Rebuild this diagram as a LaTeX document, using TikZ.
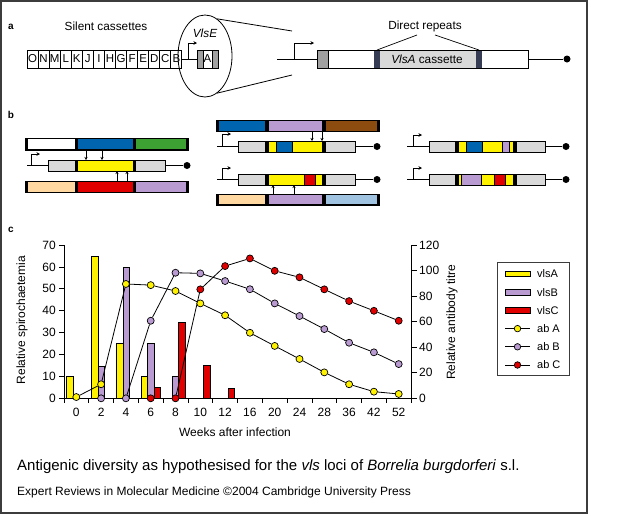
\documentclass[tikz,border=0pt]{standalone}
\usepackage{fontspec}
\setmainfont{Liberation Sans}
\usetikzlibrary{arrows.meta,shapes.geometric}
\pgfdeclarelayer{bg}
\pgfsetlayers{bg,main}
\definecolor{cyel}{RGB}{255,242,0}
\definecolor{clil}{RGB}{185,155,210}
\definecolor{cred}{RGB}{225,0,0}
\definecolor{cblu}{RGB}{0,100,175}
\definecolor{cgrn}{RGB}{60,160,50}
\definecolor{cbrn}{RGB}{140,75,15}
\definecolor{cpch}{RGB}{255,215,160}
\definecolor{clbl}{RGB}{160,195,225}
\definecolor{clgr}{RGB}{217,217,217}
\definecolor{cdgr}{RGB}{160,160,160}
\definecolor{cnav}{RGB}{55,60,85}
\definecolor{cfrm}{RGB}{60,60,60}
\newcommand\seg[5]{\fill[#5] (#1,#3) rectangle (#2,#4);}
\begin{document}
\begin{tikzpicture}[x=1pt,y=-1pt,
  every node/.style={inner sep=0pt},
  lbl/.style={font=\fontsize{11.8}{14}\selectfont},
  tk/.style={font=\fontsize{12}{14}\selectfont},
  lg/.style={font=\fontsize{11}{13}\selectfont},
  plab/.style={font=\fontsize{10}{12}\selectfont\bfseries},
  ln/.style={line width=0.8pt},
  pro/.style={line width=0.8pt,-{Stealth[length=3.5pt,width=3.5pt]}},
  arr/.style={line width=0.6pt,-{Stealth[length=3pt,width=3pt]}},
  cas/.style={draw,line width=0.9pt,minimum width=11.07pt,minimum height=18pt,font=\fontsize{11.5}{12}\selectfont},
  gbox/.style={draw,line width=0.7pt,minimum height=11pt},
  dot/.style={circle,fill=black,minimum size=7pt},
  mk/.style={circle,draw,line width=0.7pt,minimum size=7pt},
  sepl/.style={line width=0.5pt}
]
\useasboundingbox (0,0) rectangle (644,515);
\draw[line width=1.3pt,cfrm] (1,1) rectangle (587,513);

% ---------- panel a ----------
\node[plab] (la) at (11,27) {a};
\node[lbl] (sc) at (106,26) {Silent cassettes};
\foreach \l [count=\k from 0] in {O,N,M,L,K,J,I,H,G,F,E,D,C,B}
  \node[cas] (cs\k) at ({32.5+11.07*\k},59) {\l};
\fill[cdgr] (197,50) rectangle (203,68);
\fill[cdgr] (212,50) rectangle (218,68);
\node[cas,minimum width=21pt] (ve) at (207.5,59) {};
\draw[line width=0.9pt] (203,50) -- (203,68) (212,50) -- (212,68);
\node[font=\fontsize{11.5}{12}\selectfont] (va) at (207.5,59) {A};
\draw[ln] (cs13.east) -- (ve.west);
\draw[pro] (188,59) -- (188,43) -- (197,43);
\node[ellipse,draw,line width=0.8pt,minimum width=54pt,minimum height=82pt] (ell) at (205,56) {};
\node[font=\fontsize{11.8}{14}\selectfont\itshape] (vt) at (205,33) {VlsE};
\coordinate (zt) at (292,31);
\coordinate (zb) at (292,75);
\draw[line width=0.8pt] (ell.72) -- (zt);
\draw[line width=0.8pt] (ell.-72) -- (zb);

\fill[cdgr] (317,50) rectangle (328,68);
\fill[cnav] (374,50) rectangle (380,68);
\fill[clgr] (380,50) rectangle (476,68);
\fill[cnav] (476,50) rectangle (482,68);
\node[draw,line width=0.9pt,minimum width=211pt,minimum height=18pt] (vb) at (422.5,59) {};
\draw[line width=0.8pt] (328,50) -- (328,68);
\node[lbl] (vc) at (427,59) {\textit{VlsA} cassette};
\coordinate (ls) at (277,59);
\draw[ln] (ls) -- (vb.west);
\draw[pro] (294,59) -- (294,43) -- (314,43);
\node[dot] (ea) at (567,59) {};
\draw[ln] (vb.east) -- (ea);
\node[lbl] (dr) at (425,26) {Direct repeats};
\coordinate (dra) at (417,35);
\coordinate (drb) at (435,35);
\draw[line width=0.7pt] (dra) -- (377,50);
\draw[line width=0.7pt] (drb) -- (479,50);

% ---------- panel b ----------
\node[plab] (lb) at (11,115) {b};
% left group
\fill (25,138) rectangle (189,150.5);
\seg{28}{75}{139.3}{149.2}{white}\seg{78}{133}{139.3}{149.2}{cblu}\seg{136}{186}{139.3}{149.2}{cgrn}
\seg{48}{165}{160}{171}{clgr}\seg{75}{78}{160}{171}{black}\seg{78}{133}{160}{171}{cyel}\seg{133}{136}{160}{171}{black}
\node[gbox,minimum width=117pt] (g1) at (106.5,165.5) {};
\draw[ln] (27,165.5) -- (g1.west);
\draw[pro] (31,165.5) -- (31,154) -- (40,154);
\node[dot] (e1) at (187,165.5) {};
\draw[ln] (g1.east) -- (e1);
\draw[arr] (86,150.5) -- (86,160);
\draw[arr] (102,150.5) -- (102,160);
\draw[arr] (117,181) -- (117,171);
\draw[arr] (127,181) -- (127,171);
\fill (25,181) rectangle (189,193);
\seg{28}{75}{182.3}{191.7}{cpch}\seg{78}{133}{182.3}{191.7}{cred}\seg{136}{186}{182.3}{191.7}{clil}

% middle group
\fill (216,120) rectangle (380,132);
\seg{219}{265}{121.3}{130.7}{cblu}\seg{269}{322}{121.3}{130.7}{clil}\seg{326}{377}{121.3}{130.7}{cbrn}
\seg{238}{355}{141}{152}{clgr}\seg{265}{269}{141}{152}{black}\seg{269}{276.5}{141}{152}{cyel}
\seg{276.5}{292.5}{141}{152}{cblu}\seg{292.5}{322}{141}{152}{cyel}\seg{322}{326}{141}{152}{black}
\draw[sepl] (276.5,141) -- (276.5,152) (292.5,141) -- (292.5,152);
\node[gbox,minimum width=117pt] (g2) at (296.5,146.5) {};
\draw[ln] (217,146.5) -- (g2.west);
\draw[pro] (222,146.5) -- (222,134) -- (231,134);
\node[dot] (e2) at (377,146.5) {};
\draw[ln] (g2.east) -- (e2);
\draw[arr] (312,132) -- (312,141);
\draw[arr] (322,132) -- (322,141);
\seg{238}{355}{174}{185}{clgr}\seg{265}{269}{174}{185}{black}\seg{269}{304}{174}{185}{cyel}
\seg{304}{315.5}{174}{185}{cred}\seg{315.5}{322}{174}{185}{cyel}\seg{322}{326}{174}{185}{black}
\draw[sepl] (304,174) -- (304,185) (315.5,174) -- (315.5,185);
\node[gbox,minimum width=117pt] (g3) at (296.5,179.5) {};
\draw[ln] (217,179.5) -- (g3.west);
\draw[pro] (222,179.5) -- (222,168) -- (231,168);
\node[dot] (e3) at (377,179.5) {};
\draw[ln] (g3.east) -- (e3);
\draw[arr] (273,194) -- (273,185);
\draw[arr] (294,194) -- (294,185);
\fill (216,194) rectangle (380,205.5);
\seg{219}{265}{195.3}{204.2}{cpch}\seg{269}{322}{195.3}{204.2}{clil}\seg{326}{377}{195.3}{204.2}{clbl}

% right group
\seg{429}{545}{141}{152}{clgr}\seg{455}{459}{141}{152}{black}\seg{459}{466.5}{141}{152}{cyel}
\seg{466.5}{482}{141}{152}{cblu}\seg{482}{502.5}{141}{152}{cyel}\seg{502.5}{509.5}{141}{152}{clil}
\seg{509.5}{513}{141}{152}{cyel}\seg{513}{517}{141}{152}{black}
\draw[sepl] (466.5,141) -- (466.5,152) (482,141) -- (482,152) (502.5,141) -- (502.5,152) (509.5,141) -- (509.5,152);
\node[gbox,minimum width=116pt] (g4) at (487,146.5) {};
\draw[ln] (407,146.5) -- (g4.west);
\draw[pro] (413,146.5) -- (413,135) -- (422,135);
\node[dot] (e4) at (566,146.5) {};
\draw[ln] (g4.east) -- (e4);
\seg{429}{545}{174}{185}{clgr}\seg{455}{459}{174}{185}{black}\seg{459}{461.5}{174}{185}{cyel}
\seg{461.5}{481}{174}{185}{clil}\seg{481}{494}{174}{185}{cyel}\seg{494}{505.5}{174}{185}{cred}
\seg{505.5}{513}{174}{185}{cyel}\seg{513}{517}{174}{185}{black}
\draw[sepl] (461.5,174) -- (461.5,185) (481,174) -- (481,185) (494,174) -- (494,185) (505.5,174) -- (505.5,185);
\node[gbox,minimum width=116pt] (g5) at (487,179.5) {};
\draw[ln] (407,179.5) -- (g5.west);
\draw[pro] (413,179.5) -- (413,168) -- (422,168);
\node[dot] (e5) at (566,179.5) {};
\draw[ln] (g5.east) -- (e5);

% ---------- panel c ----------
\node[plab] (lc) at (11,230) {c};
\begin{pgfonlayer}{bg}
\foreach \i/\v in {0/10,1/65,2/25,3/10}
  \draw[line width=0.7pt,fill=cyel] ({76.3+24.8*\i-9.5},398.3) rectangle ({76.3+24.8*\i-3},{398.3-2.19*\v});
\foreach \i/\v in {1/14.5,2/60,3/25,4/10}
  \draw[line width=0.7pt,fill=clil] ({76.3+24.8*\i-3},398.3) rectangle ({76.3+24.8*\i+3.3},{398.3-2.19*\v});
\foreach \i/\v in {3/5,4/34.5,5/15,6/4.5}
  \draw[line width=0.7pt,fill=cred] ({76.3+24.8*\i+3.3},398.3) rectangle ({76.3+24.8*\i+9.6},{398.3-2.19*\v});
\end{pgfonlayer}
\draw[line width=0.8pt] (64,245) -- (64,398.3) -- (411.5,398.3) -- (411.5,245);
\foreach \v in {0,10,...,70} {
  \draw[line width=0.8pt] (64,{398.3-2.19*\v}) -- (59,{398.3-2.19*\v});
  \node[tk,anchor=east] (yl\v) at (56,{398.3-2.19*\v}) {\v};
}
\foreach \v in {0,20,...,120} {
  \draw[line width=0.8pt] (411.5,{398.3-1.2775*\v}) -- (416.5,{398.3-1.2775*\v});
  \node[tk,anchor=west] (yr\v) at (419,{398.3-1.2775*\v}) {\v};
}
\foreach \k in {0,...,14}
  \draw[line width=0.8pt] ({64+24.8*\k},398.3) -- ({64+24.8*\k},403);
\foreach \l [count=\i from 0] in {0,2,4,6,8,10,12,16,20,24,28,36,42,52}
  \node[tk] (xl\i) at ({76.3+24.8*\i},412) {\l};

\foreach \i/\v in {0/1,1/11,2/89.5,3/88.6,4/84,5/74.3,6/65,7/51.3,8/41,9/30.8,10/20.3,11/11,12/5.2,13/3.4}
  \node[mk,fill=cyel] (A\i) at ({76.3+24.8*\i},{398.3-1.2775*\v}) {};
\foreach \i/\v in {1/0,2/0,3/60.7,4/98.3,5/97.8,6/91.8,7/85.4,8/74.3,9/64.4,10/54.2,11/43.5,12/36,13/26.8}
  \node[mk,fill=clil] (B\i) at ({76.3+24.8*\i},{398.3-1.2775*\v}) {};
\foreach \i/\v in {3/0,4/0,5/85.3,6/103.5,7/109.5,8/99.8,9/94.7,10/85.3,11/76.1,12/68.5,13/60.7}
  \node[mk,fill=cred] (C\i) at ({76.3+24.8*\i},{398.3-1.2775*\v}) {};
\begin{pgfonlayer}{bg}
\foreach \i [remember=\i as \p (initially 0)] in {1,...,13}
  \draw[line width=0.8pt] (A\p) -- (A\i);
\foreach \i [remember=\i as \p (initially 1)] in {2,...,13}
  \draw[line width=0.8pt] (B\p) -- (B\i);
\foreach \i [remember=\i as \p (initially 3)] in {4,...,13}
  \draw[line width=0.8pt] (C\p) -- (C\i);
\end{pgfonlayer}

\node[tk,rotate=90] (yla) at (22,320) {Relative spirochaetemia};
\node[tk,rotate=90] (ylb) at (452,322) {Relative antibody titre};
\node[tk] (xla) at (235,432) {Weeks after infection};

% legend
\node[draw,line width=0.6pt,cfrm,minimum width=72pt,minimum height=113pt] (leg) at (533,318.5) {};
\foreach \c/\t [count=\j from 0] in {cyel/vlsA,clil/vlsB,cred/vlsC} {
  \draw[line width=0.7pt,fill=\c] (505,{274+18.2*\j-2.8}) rectangle (530,{274+18.2*\j+2.8});
  \node[lg,anchor=west] (lt\j) at (537,{274+18.2*\j}) {\t};
}
\foreach \c/\t [count=\j from 3] in {cyel/ab A,clil/ab B,cred/ab C} {
  \coordinate (lsa\j) at (505,{274+18.2*\j});
  \coordinate (lsb\j) at (530,{274+18.2*\j});
  \draw[line width=0.8pt] (lsa\j) -- (lsb\j);
  \node[mk,fill=\c,minimum size=6.5pt] (lm\j) at (517.5,{274+18.2*\j}) {};
  \node[lg,anchor=west] (lt\j) at (537,{274+18.2*\j}) {\t};
}

% captions
\node[font=\fontsize{15}{18}\selectfont,anchor=west] (cap) at (17,467) {Antigenic diversity as hypothesised for the \textit{vls} loci of \textit{Borrelia burgdorferi} s.l.};
\node[font=\fontsize{12}{14}\selectfont,anchor=west] (crt) at (17,492) {Expert Reviews in Molecular Medicine ©2004 Cambridge University Press};
\end{tikzpicture}
\end{document}
